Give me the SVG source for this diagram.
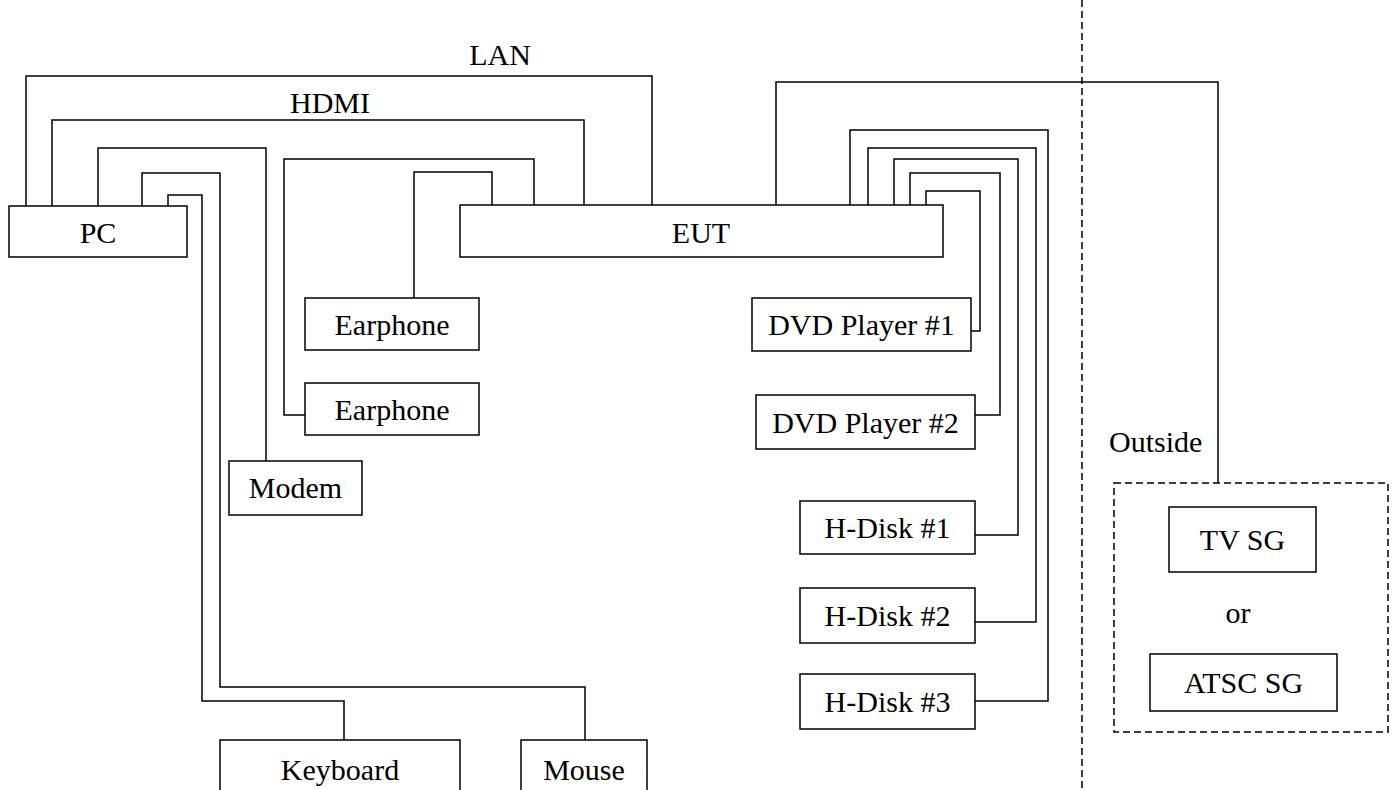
<svg xmlns="http://www.w3.org/2000/svg" width="1395" height="790" viewBox="0 0 1395 790">
<style>
.box{fill:#fff;stroke:#000;stroke-width:1.5}
.dbox{fill:none;stroke:#000;stroke-width:1.5;stroke-dasharray:7 4}
.w{fill:none;stroke:#000;stroke-width:1.5}
.t{font-family:"Liberation Serif","Times New Roman",serif;font-size:30px;fill:#000;text-anchor:middle}
.l{font-family:"Liberation Serif","Times New Roman",serif;font-size:30px;fill:#000}
</style>
<rect width="1395" height="790" fill="#fff"/>
<g id="connectors">
<path class="w" d="M26 206V76H652V205"/>
<path class="w" d="M52 206V120H584V205"/>
<path class="w" d="M98 206V148H266V461"/>
<path class="w" d="M142 206V173H220V687H585V740"/>
<path class="w" d="M168 206V195H202V701H344V740"/>
<path class="w" d="M492 205V172H414V298"/>
<path class="w" d="M534 205V159H284V415H305"/>
<path class="w" d="M776 205V82H1218V483"/>
<path class="w" d="M926 205V191H980V331H971"/>
<path class="w" d="M910 205V173H1000V415H975"/>
<path class="w" d="M894 205V159H1018V535H975"/>
<path class="w" d="M868 205V148H1036V622H975"/>
<path class="w" d="M850 205V130H1048V701H975"/>
<text class="t" x="500" y="65">LAN</text>
<text class="t" x="330" y="113">HDMI</text>
</g>
<g id="boundary">
<line class="dbox" x1="1082" y1="0" x2="1082" y2="790"/>
<text class="l" x="1109" y="452">Outside</text>
</g>
<g id="pc"><rect class="box" x="9" y="206" width="178" height="51"/><text class="t" x="98" y="243">PC</text></g>
<g id="eut"><rect class="box" x="460" y="205" width="483" height="52"/><text class="t" x="701" y="243">EUT</text></g>
<g id="earphone1"><rect class="box" x="305" y="298" width="174" height="52"/><text class="t" x="392" y="335">Earphone</text></g>
<g id="earphone2"><rect class="box" x="305" y="383" width="174" height="52"/><text class="t" x="392" y="420">Earphone</text></g>
<g id="modem"><rect class="box" x="229" y="461" width="133" height="54"/><text class="t" x="295.5" y="498">Modem</text></g>
<g id="keyboard"><rect class="box" x="220" y="740" width="240" height="54"/><text class="t" x="340" y="780">Keyboard</text></g>
<g id="mouse"><rect class="box" x="521" y="740" width="126" height="54"/><text class="t" x="584" y="780">Mouse</text></g>
<g id="dvd1"><rect class="box" x="752" y="298" width="219" height="53"/><text class="t" x="861.5" y="335">DVD Player #1</text></g>
<g id="dvd2"><rect class="box" x="756" y="395" width="219" height="54"/><text class="t" x="865.5" y="433">DVD Player #2</text></g>
<g id="hdisk1"><rect class="box" x="800" y="501" width="175" height="53"/><text class="t" x="887.5" y="538">H-Disk #1</text></g>
<g id="hdisk2"><rect class="box" x="800" y="588" width="175" height="55"/><text class="t" x="887.5" y="626">H-Disk #2</text></g>
<g id="hdisk3"><rect class="box" x="800" y="674" width="175" height="55"/><text class="t" x="887.5" y="712">H-Disk #3</text></g>
<g id="outside-group">
<rect class="dbox" x="1114" y="483" width="274" height="249"/>
<g id="tvsg"><rect class="box" x="1169" y="507" width="147" height="65"/><text class="t" x="1242.5" y="550">TV SG</text></g>
<text class="t" x="1238" y="623">or</text>
<g id="atscsg"><rect class="box" x="1150" y="654" width="187" height="57"/><text class="t" x="1243.5" y="693">ATSC SG</text></g>
</g>
</svg>
